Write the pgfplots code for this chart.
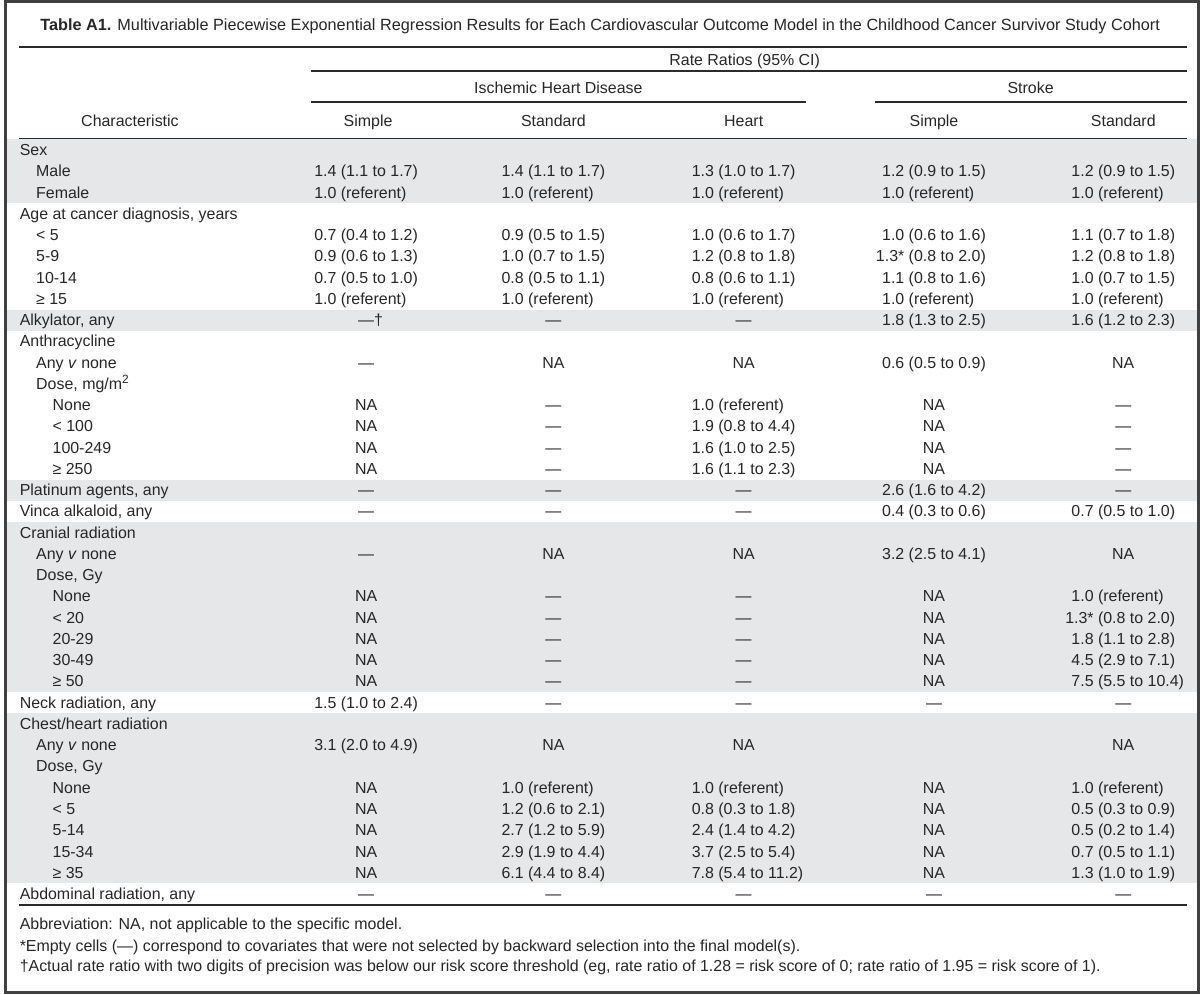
\documentclass[border=0pt]{standalone}
\usepackage{pgfplots}
\usepackage{pgfplotstable}
\pgfplotsset{compat=1.18}
\usepackage{fontspec}
\setmainfont{Liberation Sans}
\definecolor{band}{HTML}{E6E7E8}
\definecolor{ink}{HTML}{262626}
\definecolor{rulec}{HTML}{2A2A2A}
\definecolor{framec}{HTML}{404040}
\newlength\wa \newlength\wb
\DeclareRobustCommand\V[2]{\makebox[\wa][r]{#1}\ \makebox[\wb][l]{#2}}
\DeclareRobustCommand\dd{—\rlap{†}}
\DeclareRobustCommand\vv{\textit{v}}
\DeclareRobustCommand\msq{mg/m\textsuperscript{2}}

% row labels: r = row index, l = indent level
\pgfplotstableread[col sep=semicolon, row sep=\\]{
r;l;t\\
0;0;Sex\\
1;1;Male\\
2;1;Female\\
3;0;Age at cancer diagnosis, years\\
4;1;< 5\\
5;1;5-9\\
6;1;10-14\\
7;1;≥ 15\\
8;0;Alkylator, any\\
9;0;Anthracycline\\
10;1;Any \vv\ none\\
11;1;Dose, \msq\\
12;2;None\\
13;2;< 100\\
14;2;100-249\\
15;2;≥ 250\\
16;0;Platinum agents, any\\
17;0;Vinca alkaloid, any\\
18;0;Cranial radiation\\
19;1;Any \vv\ none\\
20;1;Dose, Gy\\
21;2;None\\
22;2;< 20\\
23;2;20-29\\
24;2;30-49\\
25;2;≥ 50\\
26;0;Neck radiation, any\\
27;0;Chest/heart radiation\\
28;1;Any \vv\ none\\
29;1;Dose, Gy\\
30;2;None\\
31;2;< 5\\
32;2;5-14\\
33;2;15-34\\
34;2;≥ 35\\
35;0;Abdominal radiation, any\\
}\labels

% Ischemic heart disease, simple model
\pgfplotstableread[col sep=semicolon, row sep=\\]{
r;t\\
1;\V{1.4}{(1.1 to 1.7)}\\
2;\V{1.0}{(referent)}\\
4;\V{0.7}{(0.4 to 1.2)}\\
5;\V{0.9}{(0.6 to 1.3)}\\
6;\V{0.7}{(0.5 to 1.0)}\\
7;\V{1.0}{(referent)}\\
8;\dd\\
10;—\\
12;NA\\
13;NA\\
14;NA\\
15;NA\\
16;—\\
17;—\\
19;—\\
21;NA\\
22;NA\\
23;NA\\
24;NA\\
25;NA\\
26;\V{1.5}{(1.0 to 2.4)}\\
28;\V{3.1}{(2.0 to 4.9)}\\
30;NA\\
31;NA\\
32;NA\\
33;NA\\
34;NA\\
35;—\\
}\colA

% Ischemic heart disease, standard model
\pgfplotstableread[col sep=semicolon, row sep=\\]{
r;t\\
1;\V{1.4}{(1.1 to 1.7)}\\
2;\V{1.0}{(referent)}\\
4;\V{0.9}{(0.5 to 1.5)}\\
5;\V{1.0}{(0.7 to 1.5)}\\
6;\V{0.8}{(0.5 to 1.1)}\\
7;\V{1.0}{(referent)}\\
8;—\\
10;NA\\
12;—\\
13;—\\
14;—\\
15;—\\
16;—\\
17;—\\
19;NA\\
21;—\\
22;—\\
23;—\\
24;—\\
25;—\\
26;—\\
28;NA\\
30;\V{1.0}{(referent)}\\
31;\V{1.2}{(0.6 to 2.1)}\\
32;\V{2.7}{(1.2 to 5.9)}\\
33;\V{2.9}{(1.9 to 4.4)}\\
34;\V{6.1}{(4.4 to 8.4)}\\
35;—\\
}\colB

% Ischemic heart disease, heart model
\pgfplotstableread[col sep=semicolon, row sep=\\]{
r;t\\
1;\V{1.3}{(1.0 to 1.7)}\\
2;\V{1.0}{(referent)}\\
4;\V{1.0}{(0.6 to 1.7)}\\
5;\V{1.2}{(0.8 to 1.8)}\\
6;\V{0.8}{(0.6 to 1.1)}\\
7;\V{1.0}{(referent)}\\
8;—\\
10;NA\\
12;\V{1.0}{(referent)}\\
13;\V{1.9}{(0.8 to 4.4)}\\
14;\V{1.6}{(1.0 to 2.5)}\\
15;\V{1.6}{(1.1 to 2.3)}\\
16;—\\
17;—\\
19;NA\\
21;—\\
22;—\\
23;—\\
24;—\\
25;—\\
26;—\\
28;NA\\
30;\V{1.0}{(referent)}\\
31;\V{0.8}{(0.3 to 1.8)}\\
32;\V{2.4}{(1.4 to 4.2)}\\
33;\V{3.7}{(2.5 to 5.4)}\\
34;\V{7.8}{(5.4 to 11.2)}\\
35;—\\
}\colC

% Stroke, simple model
\pgfplotstableread[col sep=semicolon, row sep=\\]{
r;t\\
1;\V{1.2}{(0.9 to 1.5)}\\
2;\V{1.0}{(referent)}\\
4;\V{1.0}{(0.6 to 1.6)}\\
5;\V{1.3*}{(0.8 to 2.0)}\\
6;\V{1.1}{(0.8 to 1.6)}\\
7;\V{1.0}{(referent)}\\
8;\V{1.8}{(1.3 to 2.5)}\\
10;\V{0.6}{(0.5 to 0.9)}\\
12;NA\\
13;NA\\
14;NA\\
15;NA\\
16;\V{2.6}{(1.6 to 4.2)}\\
17;\V{0.4}{(0.3 to 0.6)}\\
19;\V{3.2}{(2.5 to 4.1)}\\
21;NA\\
22;NA\\
23;NA\\
24;NA\\
25;NA\\
26;—\\
30;NA\\
31;NA\\
32;NA\\
33;NA\\
34;NA\\
35;—\\
}\colD

% Stroke, standard model
\pgfplotstableread[col sep=semicolon, row sep=\\]{
r;t\\
1;\V{1.2}{(0.9 to 1.5)}\\
2;\V{1.0}{(referent)}\\
4;\V{1.1}{(0.7 to 1.8)}\\
5;\V{1.2}{(0.8 to 1.8)}\\
6;\V{1.0}{(0.7 to 1.5)}\\
7;\V{1.0}{(referent)}\\
8;\V{1.6}{(1.2 to 2.3)}\\
10;NA\\
12;—\\
13;—\\
14;—\\
15;—\\
16;—\\
17;\V{0.7}{(0.5 to 1.0)}\\
19;NA\\
21;\V{1.0}{(referent)}\\
22;\V{1.3*}{(0.8 to 2.0)}\\
23;\V{1.8}{(1.1 to 2.8)}\\
24;\V{4.5}{(2.9 to 7.1)}\\
25;\V{7.5}{(5.5 to 10.4)}\\
26;—\\
28;NA\\
30;\V{1.0}{(referent)}\\
31;\V{0.5}{(0.3 to 0.9)}\\
32;\V{0.5}{(0.2 to 1.4)}\\
33;\V{0.7}{(0.5 to 1.1)}\\
34;\V{1.3}{(1.0 to 1.9)}\\
35;—\\
}\colE

\newcommand\band[2]{\fill[band] (axis cs:2,{140+21.333*#1}) rectangle (axis cs:1198,{140+21.333*#2});}
\newcommand\hr[3]{\draw[rulec, line width=1pt] (axis cs:#1,#3) -- (axis cs:#2,#3);}

\begin{document}
\fontsize{8}{9.6}\selectfont
\settowidth\wa{0.0}\settowidth\wb{(0.0 to 0.0)}
\begin{tikzpicture}
\begin{axis}[
  scale only axis, width=600pt, height=499pt,
  xmin=0, xmax=1200, ymin=0, ymax=998, y dir=reverse,
  hide axis, clip=false,
  point meta=explicit symbolic,
  every node near coord/.append style={anchor=base, inner sep=0pt, text=ink},
]
\band{0}{3}
\band{8}{9}
\band{16}{17}
\band{18}{26}
\band{27}{35}

\draw[framec, line width=1.5pt] (axis cs:1.5,1.5) rectangle (axis cs:1198.5,996.5);

% title
\node[anchor=base, inner sep=0pt, text=ink, font=\fontsize{8.15}{9.8}\selectfont] at (axis cs:598,30.5)
  {\textbf{Table A1.} Multivariable Piecewise Exponential Regression Results for Each Cardiovascular Outcome Model in the Childhood Cancer Survivor Study Cohort};
\hr{15}{1187}{47}
\node[anchor=base, inner sep=0pt, text=ink] at (axis cs:743,65.5) {Rate Ratios (95\% CI)};
\hr{308}{1187}{71}
\node[anchor=base, inner sep=0pt, text=ink] at (axis cs:556,93.5) {Ischemic Heart Disease};
\node[anchor=base, inner sep=0pt, text=ink] at (axis cs:1030,93.5) {Stroke};
\hr{308}{805}{102}
\hr{874}{1187}{102}
\node[anchor=base, inner sep=0pt, text=ink] at (axis cs:126,126.5) {Characteristic};
\node[anchor=base, inner sep=0pt, text=ink] at (axis cs:365,126.5) {Simple};
\node[anchor=base, inner sep=0pt, text=ink] at (axis cs:551,126.5) {Standard};
\node[anchor=base, inner sep=0pt, text=ink] at (axis cs:742,126.5) {Heart};
\node[anchor=base, inner sep=0pt, text=ink] at (axis cs:933,126.5) {Simple};
\node[anchor=base, inner sep=0pt, text=ink] at (axis cs:1123,126.5) {Standard};
\hr{15}{1187}{139}

\addplot[draw=none, mark=none, nodes near coords,
  every node near coord/.append style={anchor=base west}]
  table[x expr={15+16.5*\thisrow{l}}, y expr={145.5+21.333*(\thisrow{r}+0.5)}, meta=t]{\labels};
\addplot[draw=none, mark=none, nodes near coords]
  table[x expr=363, y expr={145.5+21.333*(\thisrow{r}+0.5)}, meta=t]{\colA};
\addplot[draw=none, mark=none, nodes near coords]
  table[x expr=551, y expr={145.5+21.333*(\thisrow{r}+0.5)}, meta=t]{\colB};
\addplot[draw=none, mark=none, nodes near coords]
  table[x expr=742, y expr={145.5+21.333*(\thisrow{r}+0.5)}, meta=t]{\colC};
\addplot[draw=none, mark=none, nodes near coords]
  table[x expr=933, y expr={145.5+21.333*(\thisrow{r}+0.5)}, meta=t]{\colD};
\addplot[draw=none, mark=none, nodes near coords]
  table[x expr=1123, y expr={145.5+21.333*(\thisrow{r}+0.5)}, meta=t]{\colE};

\hr{15}{1187}{908}
\node[anchor=base west, inner sep=0pt, text=ink] at (axis cs:15,932.5) {Abbreviation: NA, not applicable to the specific model.};
\node[anchor=base west, inner sep=0pt, text=ink] at (axis cs:15,954.5) {*Empty cells (—) correspond to covariates that were not selected by backward selection into the final model(s).};
\node[anchor=base west, inner sep=0pt, text=ink] at (axis cs:15,975.5) {†Actual rate ratio with two digits of precision was below our risk score threshold (eg, rate ratio of 1.28 = risk score of 0; rate ratio of 1.95 = risk score of 1).};
\end{axis}
\end{tikzpicture}
\end{document}
